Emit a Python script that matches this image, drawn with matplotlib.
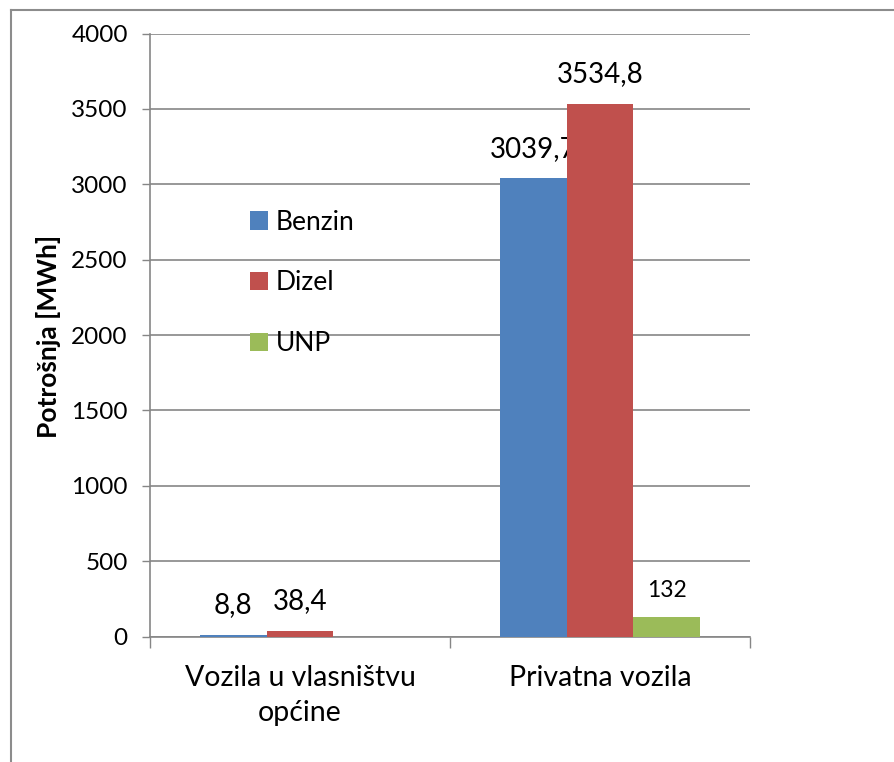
import matplotlib.pyplot as plt
import numpy as np
from matplotlib.lines import Line2D

plt.rcParams['font.family'] = ['Lato', 'DejaVu Sans']

categories = ['Vozila u vlasništvu\nopćine', 'Privatna vozila']
series_names = ['Benzin', 'Dizel', 'UNP']
benzin = [8.8, 3039.7]
dizel = [38.4, 3534.8]
unp = [0.0, 132.0]
labels_benzin = ['8,8', '3039,7']
labels_dizel = ['38,4', '3534,8']
labels_unp = ['', '132']

colors = ['#4F81BD', '#C0504D', '#9BBB59']
grid_col = '#868686'

W, H = 894, 762
fig = plt.figure(figsize=(W / 100, H / 100), dpi=100)
ax = fig.add_axes([150 / W, (H - 636.5) / H, 600 / W, (636.5 - 33.5) / H])

x = np.arange(len(categories))
bw = 1.0 / 4.5
all_vals = [benzin, dizel, unp]
all_labels = [labels_benzin, labels_dizel, labels_unp]
for i, (vals, labs) in enumerate(zip(all_vals, all_labels)):
    pos = x + (i - 1) * bw
    ax.bar(pos, vals, width=bw, color=colors[i], label=series_names[i], zorder=3)
    for p, v, lab in zip(pos, vals, labs):
        if lab:
            small = lab == '132'
            ax.annotate(lab, (p, v), xytext=(0, 11 if small else 12),
                        textcoords='offset points', ha='center', va='bottom',
                        fontsize=16.5 if small else 20)

ax.set_xlim(-0.5, 1.5)
ax.set_ylim(0, 4000)
ax.set_yticks(np.arange(0, 4001, 500))
ax.tick_params(axis='y', labelsize=17.5, length=6, color=grid_col, width=1, pad=10)
ax.yaxis.grid(True, color=grid_col, lw=1.2, zorder=0)
ax.set_axisbelow(True)

ax.set_xticks([-0.5, 0.5, 1.5])
ax.set_xticklabels([])
ax.tick_params(axis='x', length=8, color=grid_col, width=1)
for c, lab in zip(x, categories):
    ax.text(c, -0.047, lab, transform=ax.get_xaxis_transform(), ha='center',
            va='top', fontsize=20.5, linespacing=1.45)

for s in ['top', 'right']:
    ax.spines[s].set_visible(False)
for s in ['left', 'bottom']:
    ax.spines[s].set_color(grid_col)
    ax.spines[s].set_linewidth(1.2)

ax.set_ylabel('Potrošnja [MWh]', fontsize=19, fontweight='bold')
ax.yaxis.set_label_coords(-(150 - 61) / 600, (636.5 - 336) / 603)

leg = ax.legend(loc='upper left', bbox_to_anchor=(226 / W, 1 - 186 / H),
                bbox_transform=fig.transFigure, frameon=False, fontsize=19,
                handlelength=0.68, handleheight=0.68, handletextpad=0.3,
                labelspacing=1.35)

# outer border of the chart area
fig.add_artist(Line2D([11 / W, 11 / W], [0, 1 - 10 / H], color='#8c8c8c', lw=1.5,
                      transform=fig.transFigure))
fig.add_artist(Line2D([11 / W, 1], [1 - 10 / H, 1 - 10 / H], color='#8c8c8c', lw=1.5,
                      transform=fig.transFigure))

fig.savefig('out.png', dpi=100)
